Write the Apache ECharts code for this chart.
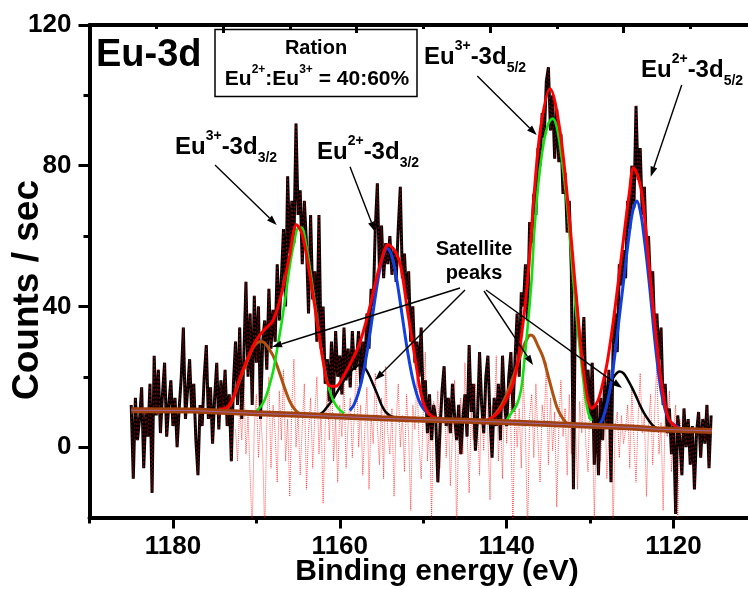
<!DOCTYPE html>
<html>
<head>
<meta charset="utf-8">
<script src="https://cdn.jsdelivr.net/npm/echarts@6/dist/echarts.min.js"></script>
<style>
html, body { margin: 0; padding: 0; background: #fff; }
#chart { width: 748px; height: 589px; }
</style>
</head>
<body>
<div id="chart"></div>
<script>
var FONT = '"Liberation Sans", Arial, sans-serif';

// measured spectrum, 0.25 eV steps going down from 1185 eV
var countsStart = 1185;
var countsStep = 0.25;
var counts = [
	12, -9, 14, 2,    8, 17, -6, 10,    3, 18, -13, 26,   9, 22, 4, 15,
	24, 3, 12, 19,    6, 14, 0, 11,     20, 34, 8, 16,    25, 10, 18, 2,
	-8, 12, 6, 20,    29, 8, 17, 1,     14, 24, 5, 19,    10, 22, 6, 15,
	-4, 18, 30, 12,   34, 8, 26, 47,    20, 38, 12, 43,   24, 40, 8, 30,
	36, 22, 45, 28,   39, 30, 52, 36,   48, 62, 40, 77,   55, 70, 58, 92,
	66, 73, 52, 70,   58, 38, 66, 42,   50, 30, 66, 28,   40, 18, 25, 13,
	30, 14, 33, 20,   26, 15, 34, 19,   28, 17, 33, 22,   24, 33, 18, 30,
	22, 38, 28, 45,   40, 62, 75, 50,   63, 48, 58, 52,   60, 49, 56, 47,
	62, 74, 48, 55,   42, 50, 30, 40,   24, 30, 20, 34,   12, 19, 4, 15,
	2, 12, 8, -10,    5, 16, 23, 6,     14, 4, 18, 9,     2, 12, -2, 8,
	15, 3, 29, 10,    18, -1, 8, 27,    12, 4, 20, 26,    8, -3, 14, 6,
	18, 2, 26, 12,    6, 20, 27, 10,    25, 38, 20, 44,   40, 52, 36, 64,
	58, 72, 66, 85,   80, 95, 88, 104,  108, 90, 100, 82, 96, 81, 89, 72,
	78, 61, 70, 50,   -12, 44, 37, 30,  26, 37, 14, 22,   8, 24, -5, 12,
	-8, 14, 2, 20,    6, 22, -10, 28,   38, 27, 52, 46,   56, 48, 70, 62,
	80, 68, 97, 76,   85, 66, 74, 56,   60, 45, 50, 32,   38, 25, 34, 12,
	18, 4, 11, -2,    6, -19, 9, 2,     -8, 11, 0, 8,     -5, 6, -12, 4,
	10, -3, 8, 1,     12, -6, 9
];

// fit residual, same step, starting at 1172.5 eV
var residualStart = 1172.5;
var residual = [
	5, -4, 12, 2,     18, -2, 9, -8,    -24, 6, 15, -3,   10, 0, -25, 7,
	20, -6, 12, 4,    -10, 16, 2, 22,   -4, 8, -14, 12,   25, 0, 10, -8,
	6, 18, -12, 4,    14, -6, 9, 20,    -2, 10, -16, 6,   16, 2, 24, -4,
	8, -10, 12, 3,    19, -6, 7, 14,    -3, 10, 26, 0,    12, -8, 5, 17,
	-12, 9, 1, 21,    6, -5, 14, -9,    23, 4, -2, 11,    -14, 7, 18, 0,
	9, -7, 15, 3,     -18, 12, 5, 20,   1, -9, 10, 27,    -4, 8, -20, 13,
	6, 16, -6, 9,     22, -3, 11, -11,  4, 19, -25, 7,    14, -2, 24, 5,
	-13, 10, 2, 18,   8, -8, 15, -1,    21, 3, -15, 12,   6, 26, -4, 10,
	-9, 17, 1, 23,    5, -22, 13, 0,    11, -6, 20, 4,    -25, 9, 15, -3,
	18, 2, -10, 12,   7, 24, -5, 14,    -1, 10, -17, 6,   19, 3, 11, -8,
	15, -2, 22, 6,    -12, 13, 4, 20,   0, -7, 16, 9,     -20, 5, 12, -4,
	8, 18, -9, 3,     14, -24, 6, 10,   -3, 9, 1, 5,      12, -6, 17, 2,
	-10, 8, 21, 4,    9, -14, 6, 15,    -5, 11, 24, -2,   7, -18, 10, 3,
	16, -7, 5, 12,    -22, 8, 2, 6,     4
];

// cumulative fit (red)
var envelopeFit = [
	[1174.5, 10.8], [1173.5, 11.3], [1172.8, 14], [1172, 19.5], [1171, 25.5], [1170, 30.5],
	[1169, 33.5], [1168, 36], [1167, 43.5], [1166, 54.5], [1165.2, 63.2], [1164.5, 60.5],
	[1163.6, 49], [1162.7, 35.3], [1162, 24.5], [1161.3, 17.5], [1160.5, 17.3], [1159.6, 20],
	[1158.7, 23.9], [1157.7, 29], [1156.7, 37], [1155.8, 46], [1155.1, 52.4], [1154.2, 57.5],
	[1153.4, 55.8], [1152.7, 51.4], [1151.9, 39], [1150.9, 24], [1150.2, 14.5], [1149.5, 10],
	[1148.5, 8.3], [1146, 7.6], [1143, 7.4], [1141.5, 8.8], [1140.3, 12.5], [1139.1, 19],
	[1137.9, 38], [1137.2, 56], [1136.7, 72.3], [1135.9, 91.3], [1134.8, 101.9], [1133.7, 91.3],
	[1132.7, 70.4], [1131.7, 43.8], [1130.7, 20], [1129.8, 11], [1129.1, 13], [1128.5, 18],
	[1127.9, 24.8], [1127.1, 38], [1126.3, 53.3], [1125.3, 72.3], [1124.8, 79.4], [1124.2, 76.5],
	[1123.7, 70.4], [1122.8, 48.5], [1121.8, 24.8], [1121.1, 13], [1120.5, 7.7], [1119.6, 5.6],
	[1119, 5.2]
];

// Eu3+ 3d3/2 (green)
var eu3Fit32 = [
	[1170.2, 9.8], [1169.5, 11.5], [1169, 13.5], [1168.5, 17], [1168, 21.5], [1167.5, 28],
	[1167, 35], [1166.5, 43], [1166, 51.5], [1165.5, 58], [1165, 62.3], [1164.6, 62.4],
	[1164, 57], [1163.5, 49.5], [1163, 41], [1162.5, 32], [1162, 24.5], [1161.5, 18.5],
	[1161, 14.5], [1160.5, 12], [1160, 10.5], [1159.5, 9.6]
];

// Eu2+ 3d3/2 (blue)
var eu2Fit32 = [
	[1158.8, 10.4], [1158.3, 12.1], [1157.8, 15.2], [1157.3, 19.8], [1156.8, 26.1], [1156.3, 33.7],
	[1155.8, 41.9], [1155.3, 49.3], [1154.8, 54.6], [1154.3, 56.5], [1153.8, 54.6], [1153.3, 49.3],
	[1152.8, 41.9], [1152.3, 33.7], [1151.8, 26.1], [1151.3, 19.8], [1150.8, 15.2], [1150.3, 12.1],
	[1149.8, 10.4], [1149.3, 9.4]
];

// Eu3+ 3d5/2 (green)
var eu3Fit52 = [
	[1140.2, 7], [1139.5, 9.5], [1138.8, 12], [1138.3, 16], [1137.9, 24], [1137.5, 34],
	[1137, 48], [1136.7, 61], [1136.2, 75], [1135.6, 86], [1135, 92], [1134.5, 93.4],
	[1134, 91], [1133.4, 82], [1132.7, 67.5], [1132.3, 56], [1131.9, 44], [1131.5, 34],
	[1131.1, 25], [1130.6, 15], [1130.2, 9.5], [1129.8, 7.5]
];

// Eu2+ 3d5/2 (blue)
var eu2Fit52 = [
	[1129, 6], [1128.5, 8], [1128, 12], [1127.5, 18], [1127.1, 25], [1126.6, 35],
	[1126.2, 43], [1125.9, 49], [1125.4, 59], [1124.9, 67], [1124.4, 70], [1123.9, 66],
	[1123.5, 59], [1123.2, 53], [1122.8, 44], [1122.4, 34], [1122, 25], [1121.5, 16],
	[1121, 10.5], [1120.5, 7.5], [1120, 6.5], [1119.3, 5.5]
];

// satellites (brown)
var satFit1169 = [
	[1173.6, 10.6], [1173, 12.5], [1172.5, 15.5], [1172, 19], [1171.5, 22], [1171, 25],
	[1170.5, 27.8], [1170, 29.5], [1169.4, 30], [1169, 29.6], [1168.5, 28], [1168, 26],
	[1167.5, 23], [1167, 19.5], [1166.5, 16], [1166, 13], [1165.5, 11], [1165, 9.8], [1164.5, 9.4]
];
var satFit1137 = [
	[1142.5, 7.3], [1142, 8], [1141.5, 9], [1141, 10.5], [1140.5, 12.5], [1140, 15],
	[1139.5, 18], [1139, 21.5], [1138.5, 25], [1138, 28.5], [1137.5, 31], [1137.2, 31.9],
	[1136.8, 31.5], [1136.3, 29], [1135.8, 26.5], [1135.5, 24.5], [1135, 20], [1134.5, 15.5],
	[1134, 11.5], [1133.5, 9], [1133, 7.3], [1132.5, 6.5], [1132, 6.3]
];

// satellites (black)
var satFit1158 = [
	[1162.5, 9.2], [1162, 10], [1161.5, 11.5], [1161, 13], [1160.5, 15], [1160, 17],
	[1159.5, 19], [1159, 20.5], [1158.5, 22], [1158, 23], [1157.6, 23.4], [1157, 22.5],
	[1156.5, 20.5], [1156, 17.8], [1155.5, 15], [1155, 12], [1154.5, 10], [1154, 9], [1153.5, 8.5]
];
var satFit1126 = [
	[1129.3, 6], [1128.8, 8.5], [1128.4, 12], [1128, 15.3], [1127.5, 18.5], [1127, 20.5],
	[1126.5, 21.5], [1126, 21], [1125.5, 19.2], [1125, 17], [1124.5, 14.5], [1124, 11.8],
	[1123.5, 9.5], [1123, 7.7], [1122.5, 6.2], [1122, 5.3]
];

// Shirley-type background
var background = [
	[1185, 10.5], [1177.6, 10.4], [1177.4, 10.0], [1170, 9.6], [1165, 9.2], [1160, 8.7],
	[1155, 8.2], [1150, 7.8], [1145, 7.5], [1140, 7.1], [1135, 6.6], [1130, 6.1],
	[1125, 5.6], [1122, 5.1], [1118, 4.8], [1115.4, 4.6]
];

var xMajorTicks = [1180, 1160, 1140, 1120];
var xMinorTicks = [1190, 1170, 1150, 1130];
var yMajorTicks = [0, 40, 80, 120];
var yMinorTicks = [20, 60, 100];
var topMajorTicks = [0, 2, 4, 6, 8, 10];
var topMinorTicks = [1, 3, 5, 7, 9];

function stepped(start, step, values) {
	return values.map(function(v, i) { return [start - i * step, v]; });
}

function curve(data, color, width, z) {
	return {
		type: 'line', data: data, symbol: 'none', smooth: 0.35, z: z,
		lineStyle: { color: color, width: width }
	};
}

function arrow(x1, y1, x2, y2) {
	var dx = x2 - x1, dy = y2 - y1;
	var len = Math.sqrt(dx * dx + dy * dy);
	var ux = dx / len, uy = dy / len;
	var hl = 10, hw = 3.5;
	var bx = x2 - ux * hl, by = y2 - uy * hl;
	return [{
		type: 'line', z: 50,
		shape: { x1: x1, y1: y1, x2: bx, y2: by },
		style: { stroke: '#000', lineWidth: 1.4 }
	}, {
		type: 'polygon', z: 50,
		shape: { points: [[x2, y2], [bx - uy * hw, by + ux * hw], [bx + uy * hw, by - ux * hw]] },
		style: { fill: '#000' }
	}];
}

var ionRich = {
	m: { fontSize: 24, fontWeight: 'bold', fontFamily: FONT, lineHeight: 36 },
	sup: { fontSize: 14, fontWeight: 'bold', fontFamily: FONT, lineHeight: 24, verticalAlign: 'top' },
	sub: { fontSize: 14, fontWeight: 'bold', fontFamily: FONT, lineHeight: 6, verticalAlign: 'bottom' }
};

function ionLabel(x, y, ion, level) {
	return {
		type: 'text', x: x, y: y, z: 50,
		style: {
			text: '{m|Eu}{sup|' + ion + '}{m|-3d}{sub|' + level + '}',
			rich: ionRich, align: 'left', verticalAlign: 'middle', fill: '#000'
		}
	};
}

var graphics = [
	{
		type: 'text', x: 96, y: 56, z: 50,
		style: { text: 'Eu-3d', font: 'bold 38px ' + FONT, fill: '#000', align: 'left', verticalAlign: 'middle' }
	},
	{
		type: 'rect', z: 50,
		shape: { x: 215, y: 29.5, width: 202, height: 67 },
		style: { fill: 'none', stroke: '#000', lineWidth: 1.5 }
	},
	{
		type: 'text', x: 316, y: 48, z: 50,
		style: { text: 'Ration', font: 'bold 20px ' + FONT, fill: '#000', align: 'center', verticalAlign: 'middle' }
	},
	{
		type: 'text', x: 317, y: 79, z: 50,
		style: {
			text: '{m|Eu}{s|2+}{m|:Eu}{s|3+}{m| = 40:60%}',
			align: 'center', verticalAlign: 'middle',
			rich: {
				m: { fontSize: 21, fontWeight: 'bold', fontFamily: FONT, lineHeight: 30 },
				s: { fontSize: 12, fontWeight: 'bold', fontFamily: FONT, lineHeight: 20, verticalAlign: 'top' }
			}
		}
	},
	ionLabel(424, 57, '3+', '5/2'),
	ionLabel(641, 70.5, '2+', '5/2'),
	ionLabel(175, 147.5, '3+', '3/2'),
	ionLabel(317, 152, '2+', '3/2'),
	{
		type: 'text', x: 474, y: 261, z: 50,
		style: {
			text: 'Satellite\npeaks', font: 'bold 20px ' + FONT, lineHeight: 24,
			fill: '#000', align: 'center', verticalAlign: 'middle'
		}
	},
	{
		type: 'text', x: 437, y: 572, z: 50,
		style: { text: 'Binding energy (eV)', font: 'bold 30px ' + FONT, fill: '#000', align: 'center', verticalAlign: 'middle' }
	},
	{
		type: 'text', x: 28, y: 290, rotation: Math.PI / 2, z: 50,
		style: { text: 'Counts / sec', font: 'bold 37px ' + FONT, fill: '#000', align: 'center', verticalAlign: 'middle' }
	}
]
	.concat(arrow(215, 165, 276.7, 225))
	.concat(arrow(350, 166.7, 375, 231.7))
	.concat(arrow(477.3, 76, 536.7, 135))
	.concat(arrow(681.7, 85, 650.7, 176.7))
	.concat(arrow(460, 288, 272, 347))
	.concat(arrow(465, 290, 375, 380))
	.concat(arrow(484, 291, 533, 365))
	.concat(arrow(486, 290, 622, 388));

var labelFont = { fontSize: 26, fontWeight: 'bold', fontFamily: FONT, color: '#000' };
var countsData = stepped(countsStart, countsStep, counts);
function plain(v) { return String(v); }

var option = {
	animation: false,
	backgroundColor: '#fff',
	grid: { left: 89.5, right: -9, top: 25, bottom: 71.5, containLabel: false, outerBoundsMode: 'none' },
	xAxis: [{
		type: 'value', min: 1110, max: 1190, inverse: true, position: 'bottom',
		axisLine: { onZero: false, lineStyle: { color: '#000', width: 4 } },
		axisTick: { customValues: xMajorTicks, length: 11, lineStyle: { color: '#000', width: 3 } },
		axisLabel: Object.assign({ customValues: xMajorTicks, margin: 16, formatter: plain }, labelFont),
		splitLine: { show: false }
	}, {
		type: 'value', min: 1110, max: 1190, inverse: true, position: 'bottom',
		axisLine: { show: false, onZero: false },
		axisTick: { customValues: xMinorTicks, length: 6, lineStyle: { color: '#000', width: 3 } },
		axisLabel: { show: false },
		splitLine: { show: false }
	}, {
		type: 'value', min: 0, max: 10, position: 'top',
		axisLine: { onZero: false, lineStyle: { color: '#000', width: 4 } },
		axisTick: { inside: true, customValues: topMajorTicks, length: 8, lineStyle: { color: '#000', width: 3 } },
		axisLabel: { show: false },
		splitLine: { show: false }
	}, {
		type: 'value', min: 0, max: 10, position: 'top',
		axisLine: { show: false, onZero: false },
		axisTick: { inside: true, customValues: topMinorTicks, length: 4, lineStyle: { color: '#000', width: 3 } },
		axisLabel: { show: false },
		splitLine: { show: false }
	}],
	yAxis: [{
		type: 'value', min: -20, max: 120, position: 'left',
		axisLine: { onZero: false, lineStyle: { color: '#000', width: 4 } },
		axisTick: { customValues: yMajorTicks, length: 11, lineStyle: { color: '#000', width: 3 } },
		axisLabel: Object.assign({ customValues: yMajorTicks, margin: 18, formatter: plain }, labelFont),
		splitLine: { show: false }
	}, {
		type: 'value', min: -20, max: 120, position: 'left',
		axisLine: { show: false, onZero: false },
		axisTick: { customValues: yMinorTicks, length: 6, lineStyle: { color: '#000', width: 3 } },
		axisLabel: { show: false },
		splitLine: { show: false }
	}],
	series: [
		{
			type: 'line', data: stepped(residualStart, countsStep, residual), symbol: 'none', z: 1,
			lineStyle: { color: 'rgba(255,0,0,0.85)', width: 0.8, type: [1, 1] }
		},
		{
			type: 'line', data: countsData, symbol: 'none', z: 2,
			lineStyle: { color: '#000', width: 3 }
		},
		{
			type: 'line', data: countsData, symbol: 'none', z: 3,
			lineStyle: { color: '#a00000', width: 0.8, type: [2, 2] }
		},
		curve(satFit1169, '#b0500f', 3, 4),
		curve(satFit1137, '#b0500f', 3, 4),
		curve(satFit1158, '#000', 2.5, 4),
		curve(satFit1126, '#000', 2.5, 4),
		curve(eu3Fit32, '#10e010', 2.6, 5),
		curve(eu3Fit52, '#10e010', 2.6, 5),
		curve(eu2Fit32, '#1040e0', 3, 5),
		curve(eu2Fit52, '#1040e0', 3, 5),
		curve(envelopeFit, '#ff0000', 3, 6),
		Object.assign(curve(background, '#a0400c', 6, 7), { smooth: false }),
		Object.assign(curve(background, '#a070c8', 0.8, 8), { smooth: false })
	],
	graphic: graphics
};

var chart = echarts.init(document.getElementById('chart'));
chart.setOption(option);
</script>
</body>
</html>
